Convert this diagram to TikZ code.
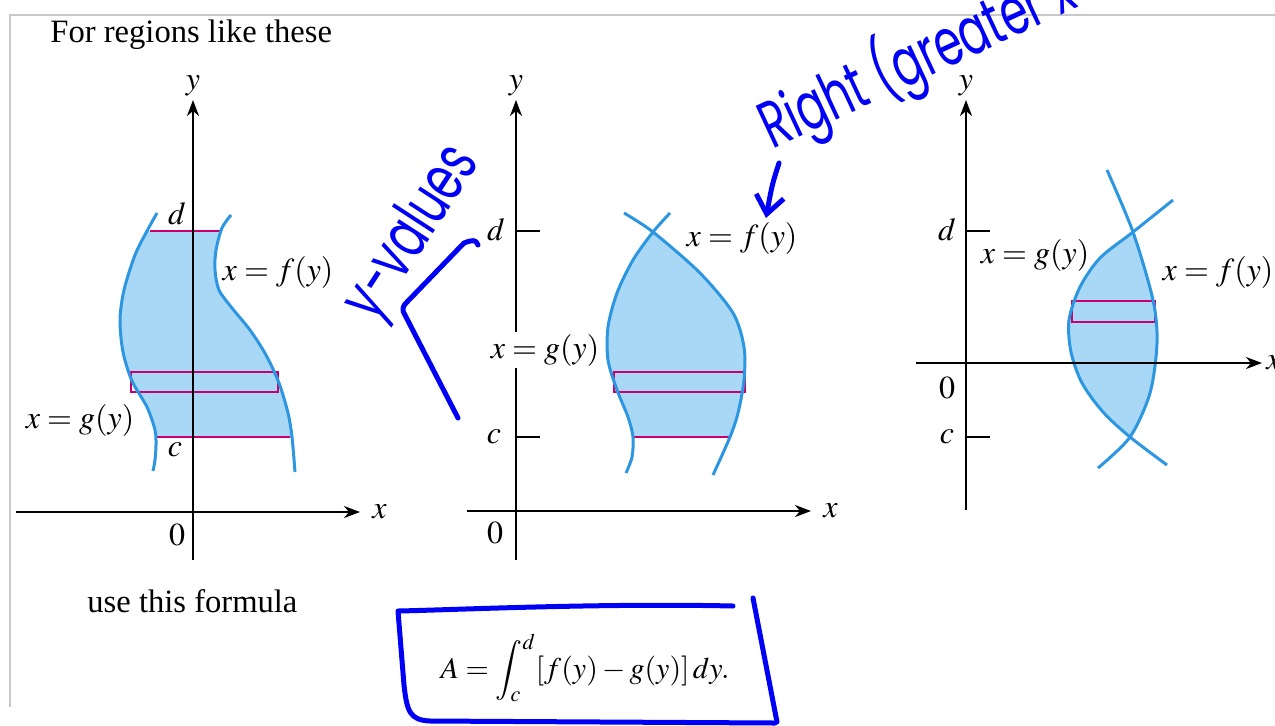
\documentclass[tikz,border=0pt]{standalone}
\usepackage{amsmath,amssymb}
\usepackage{mathptmx}
\usepackage{fontspec}
\setmainfont{Liberation Serif}
\newfontfamily\handfont{Poppins}
\usepackage{xcolor}
\usetikzlibrary{shapes,arrows,arrows.meta,positioning}
\definecolor{curveblue}{RGB}{45,150,225}
\definecolor{regionblue}{RGB}{168,216,246}
\definecolor{stripred}{RGB}{200,0,110}
\definecolor{inkblue}{RGB}{0,0,245}
\definecolor{framegray}{RGB}{200,200,200}

\begin{document}
\begin{tikzpicture}[x=0.5pt, y=-0.5pt,
    axis/.style={line width=1pt, -{Stealth[length=8pt,width=6pt,inset=2.5pt]}},
    tick/.style={line width=1pt},
    curve/.style={curveblue, line width=1.5pt},
    region/.style={fill=regionblue},
    strip/.style={stripred, line width=0.8pt},
    lbl/.style={font=\fontsize{16}{19}\selectfont, inner sep=1pt},
    txt/.style={font=\fontsize{16.3}{19}\selectfont, inner sep=0pt},
    ink/.style={inkblue, line width=2.5pt, line cap=round, line join=round},
    hand/.style={inkblue, inner sep=0pt, transform shape, font=\handfont\fontsize{22}{26}\selectfont}]
    \useasboundingbox (0,0) rectangle (1275,725);
    \draw[framegray, line width=0.6pt] (1275,15) -- (10,15) -- (10,707);

    \node[txt, anchor=base west] (title) at (50,42) {For regions like these};
    \node[txt, anchor=base west] (usetxt) at (87,612) {use this formula};

    % first region
    \begin{scope}
        \clip (0,231) rectangle (420,437);
        \fill[region] plot[smooth] coordinates {(157,213) (147,231) (135,255) (124,290) (120,320) (123,352) (132,381) (147,407) (155,430) (156,445) (155,460) (153,471)}
            -- plot[smooth] coordinates {(295,472) (292,437) (288,413) (279,383) (266,355) (250,330) (232,308) (219,290) (215,270) (216,250) (222,228) (231,215)} -- cycle;
    \end{scope}
    \draw[strip] (150,231) -- (220,231);
    \draw[strip] (157,437) -- (290,437);
    \draw[strip] (131,372) rectangle (278,392);
    \draw[curve] plot[smooth] coordinates {(157,213) (147,231) (135,255) (124,290) (120,320) (123,352) (132,381) (147,407) (155,430) (156,445) (155,460) (153,471)};
    \draw[curve] plot[smooth] coordinates {(231,215) (222,228) (216,250) (215,270) (219,290) (232,308) (250,330) (266,355) (279,383) (288,413) (292,437) (295,472)};
    \coordinate (ybot1) at (193,560);
    \coordinate (ytop1) at (193,100);
    \coordinate (xlft1) at (16,512);
    \coordinate (xrgt1) at (360,512);
    \draw[axis] (ybot1) -- (ytop1);
    \draw[axis] (xlft1) -- (xrgt1);
    \node[lbl, above=1pt of ytop1] (ylab1) {$y$};
    \node[lbl, right=5pt of xrgt1] (xlab1) {$x$};
    \node[lbl] (zero1) at (177,535) {$0$};
    \node[lbl] (dlab1) at (177,214) {$d$};
    \node[lbl] (clab1) at (175,450) {$c$};
    \node[lbl] (flab1) at (278,272) {$x = f(y)$};
    \node[lbl] (glab1) at (80,420) {$x = g(y)$};

    % second region
    \begin{scope}
        \clip (420,232) rectangle (860,437);
        \fill[region] plot[smooth] coordinates {(670,213) (653,232) (633,260) (617,293) (608,327) (608,360) (617,390) (628,417) (633,437) (632,457) (626,473)}
            -- plot[smooth] coordinates {(713,475) (730,437) (738,413) (744,380) (744,347) (733,313) (700,273) (653,232) (624,213)} -- cycle;
    \end{scope}
    \draw[strip] (633,437) -- (730,437);
    \draw[strip] (614,372) rectangle (745,392);
    \draw[curve] plot[smooth] coordinates {(670,213) (653,232) (633,260) (617,293) (608,327) (608,360) (617,390) (628,417) (633,437) (632,457) (626,473)};
    \draw[curve] plot[smooth] coordinates {(624,213) (653,232) (700,273) (733,313) (744,347) (744,380) (738,413) (730,437) (713,475)};
    \coordinate (ybot2) at (516,560);
    \coordinate (ytop2) at (516,100);
    \coordinate (xlft2) at (467,511);
    \coordinate (xrgt2) at (811,511);
    \draw[axis] (ybot2) -- (ytop2);
    \draw[axis] (xlft2) -- (xrgt2);
    \draw[tick] (516,231) -- (540,231);
    \draw[tick] (516,437) -- (540,437);
    \node[lbl, above=1pt of ytop2] (ylab2) {$y$};
    \node[lbl, right=5pt of xrgt2] (xlab2) {$x$};
    \node[lbl] (zero2) at (495,533) {$0$};
    \node[lbl] (dlab2) at (496,230) {$d$};
    \node[lbl] (clab2) at (494,437) {$c$};
    \node[lbl, fill=white] (glab2) at (545,350) {$x = g(y)$};
    \node[lbl] (flab2) at (742,238) {$x = f(y)$};

    % third region
    \begin{scope}
        \clip (880,232) rectangle (1275,437);
        \fill[region] plot[smooth] coordinates {(1173,200) (1133,232) (1100,258) (1080,287) (1069,320) (1071,352) (1082,383) (1103,412) (1130,437) (1167,465)}
            -- plot[smooth] coordinates {(1098,468) (1130,437) (1150,393) (1157,343) (1153,300) (1133,232) (1107,170)} -- cycle;
    \end{scope}
    \draw[strip] (1072,301) rectangle (1155,322);
    \draw[curve] plot[smooth] coordinates {(1173,200) (1133,232) (1100,258) (1080,287) (1069,320) (1071,352) (1082,383) (1103,412) (1130,437) (1167,465)};
    \draw[curve] plot[smooth] coordinates {(1107,170) (1133,232) (1153,300) (1157,343) (1150,393) (1130,437) (1098,468)};
    \coordinate (ybot3) at (966,510);
    \coordinate (ytop3) at (966,100);
    \coordinate (xlft3) at (916,363);
    \coordinate (xrgt3) at (1262,363);
    \draw[axis] (ybot3) -- (ytop3);
    \draw[axis] (xlft3) -- (xrgt3);
    \draw[tick] (966,231) -- (990,231);
    \draw[tick] (966,437) -- (990,437);
    \node[lbl, above=1pt of ytop3] (ylab3) {$y$};
    \node[lbl, right=1pt of xrgt3] (xlab3) {$x$};
    \node[lbl] (zero3) at (947,388) {$0$};
    \node[lbl] (dlab3) at (947,230) {$d$};
    \node[lbl] (clab3) at (947,437) {$c$};
    \node[lbl] (glab3) at (1035,255) {$x = g(y)$};
    \node[lbl] (flab3) at (1218,272) {$x = f(y)$};

    % formula
    \node[lbl, font=\fontsize{15}{18}\selectfont] (formula) at (585,668) {$A = \displaystyle\int_c^d [f(y) - g(y)]\,dy.$};

    % handwritten notes
    \node[hand, rotate=57, yscale=1.5] (yvals) at (414,234) {y-values};
    \draw[ink] (478,245) .. controls (476,239) and (472,240) .. (464,243) -- (407,302)
        .. controls (402,306) and (402,311) .. (405,315) -- (458,418);
    \node[hand, rotate=25, yscale=1.5, anchor=base west] (rightnote) at (772,150) {Right (greater x};
    \coordinate (arrtail) at (779,163);
    \coordinate (arrtip) at (766,218);
    \draw[ink, -{Straight Barb[length=9pt,width=14pt]}] (arrtail) .. controls (772,185) .. (arrtip);
    \draw[ink] (733,606) .. controls (600,603) and (450,610) .. (398,611) -- (404,685)
        .. controls (407,712) and (410,720) .. (430,721) -- (775,723);
    \draw[ink] (753,598) -- (777,722);
\end{tikzpicture}
\end{document}
